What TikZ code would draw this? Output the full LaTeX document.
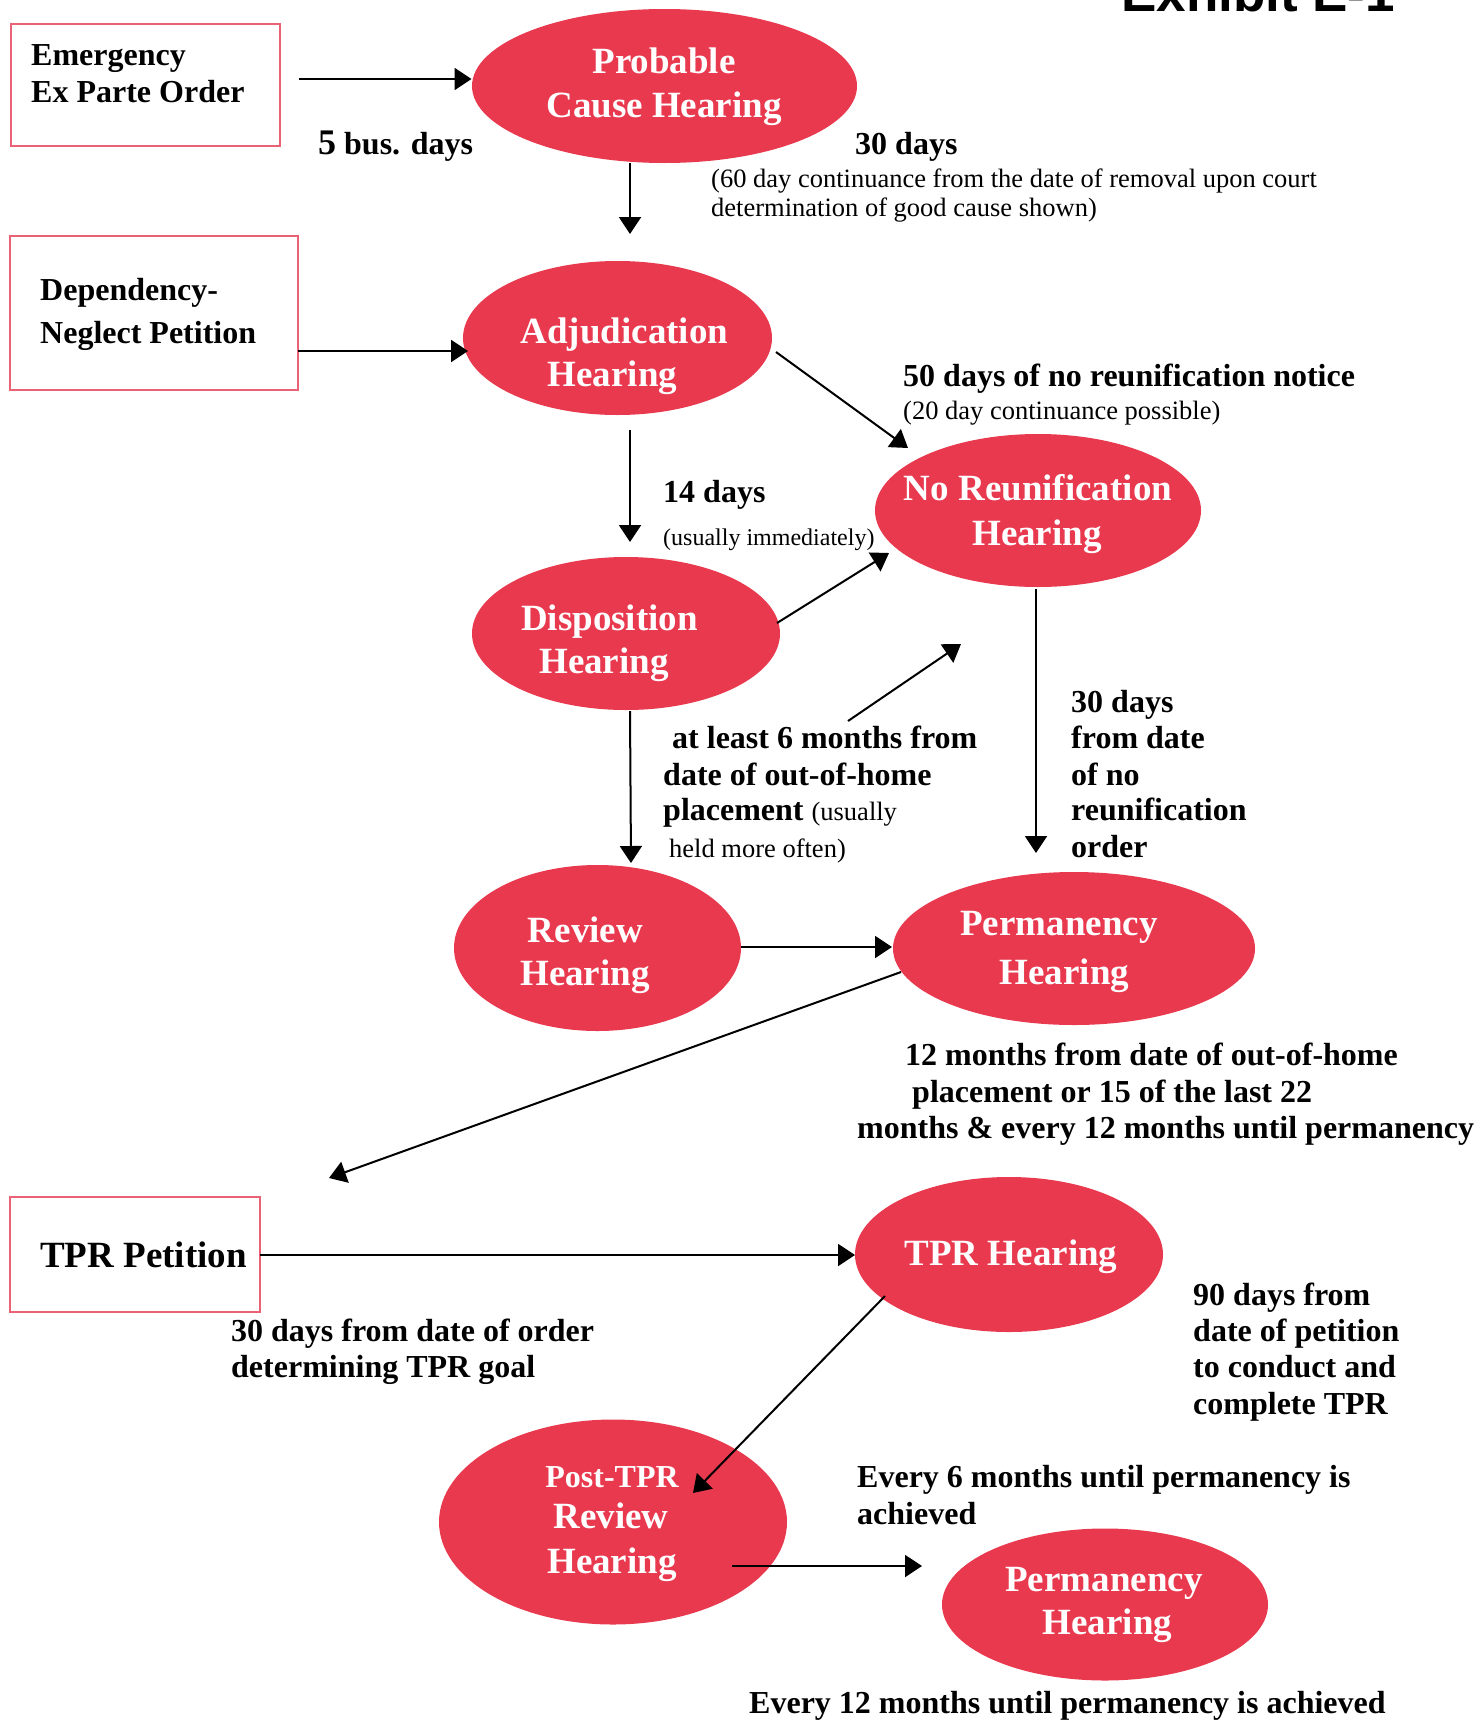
\documentclass[tikz,border=0pt]{standalone}
\usepackage{fontspec}
\setmainfont{Liberation Serif}
\newfontfamily\titlefont{Liberation Sans}
\usetikzlibrary{shapes.geometric,arrows.meta}
\definecolor{hearred}{RGB}{233,57,79}
\definecolor{boxred}{RGB}{234,98,118}
\tikzset{
  hear/.style={ellipse, fill=hearred, draw=none, inner sep=0pt},
  pbox/.style={rectangle, draw=boxred, line width=2pt, inner sep=0pt},
  htxt/.style={anchor=base, inner sep=0pt, text=white, font=\bfseries\fontsize{37}{43}\selectfont},
  lbl/.style={anchor=base west, inner sep=0pt, font=\bfseries\fontsize{32}{37}\selectfont},
  small/.style={anchor=base west, inner sep=0pt, font=\fontsize{26.5}{30}\selectfont},
  titl/.style={anchor=base west, inner sep=0pt, font=\titlefont\bfseries\fontsize{53}{60}\selectfont},
  arr/.style={line width=2pt, -{Triangle[length=17pt,width=22pt]}},
}
\begin{document}
\begin{tikzpicture}[x=1pt,y=-1pt]
\fill[white] (0,0) rectangle (1473,1721);
\useasboundingbox (0,0) rectangle (1473,1721);

% title (cut at top)
\node[titl] (title) at (1121,11) {Exhibit E-1};

% boxes
\node[pbox, minimum width=269pt, minimum height=122pt] (box1) at (145.5,85) {};
\node[pbox, minimum width=288pt, minimum height=154pt] (box2) at (154,313) {};
\node[pbox, minimum width=250pt, minimum height=115pt] (box3) at (135,1254.5) {};

\node[lbl] (b1a) at (31,65) {Emergency};
\node[lbl] (b1b) at (31,102) {Ex Parte Order};
\node[lbl] (b2a) at (40,300) {Dependency-};
\node[lbl] (b2b) at (40,343) {Neglect Petition};
\node[lbl, font=\bfseries\fontsize{37}{43}\selectfont] (b3a) at (40,1267) {TPR Petition};

% hearings
\node[hear, minimum width=385pt, minimum height=154pt] (pc) at (664.5,86) {};
\node[hear, minimum width=309pt, minimum height=154pt] (adj) at (617.5,338) {};
\node[hear, minimum width=326pt, minimum height=153pt] (noreun) at (1038,510.5) {};
\node[hear, minimum width=308pt, minimum height=153pt] (disp) at (626,633.5) {};
\node[hear, minimum width=287pt, minimum height=166pt] (review) at (597.5,948) {};
\node[hear, minimum width=362pt, minimum height=153pt] (perm) at (1074,948.5) {};
\node[hear, minimum width=308pt, minimum height=155pt] (tprh) at (1009,1254.5) {};
\node[hear, minimum width=348pt, minimum height=205pt] (post) at (613,1522) {};
\node[hear, minimum width=326pt, minimum height=152pt] (perm2) at (1105,1604.5) {};

\node[htxt] (pc1) at (664,73) {Probable};
\node[htxt] (pc2) at (664,117) {Cause Hearing};
\node[htxt] (adj1) at (624.5,343) {Adjudication};
\node[htxt] (adj2) at (612.5,386) {Hearing};
\node[htxt] (nr1) at (1038,500) {No Reunification};
\node[htxt] (nr2) at (1037,545) {Hearing};
\node[htxt] (dp1) at (609.5,630) {Disposition};
\node[htxt] (dp2) at (604,673) {Hearing};
\node[htxt] (rv1) at (585.5,942) {Review};
\node[htxt] (rv2) at (585,985) {Hearing};
\node[htxt] (pm1) at (1059,935) {Permanency};
\node[htxt] (pm2) at (1064.5,984) {Hearing};
\node[htxt] (tp1) at (1011,1265.5) {TPR Hearing};
\node[htxt, font=\bfseries\fontsize{32}{37}\selectfont] (po1) at (612,1487) {Post-TPR};
\node[htxt] (po2) at (611,1528) {Review};
\node[htxt] (po3) at (612,1573) {Hearing};
\node[htxt] (pq1) at (1104,1591) {Permanency};
\node[htxt] (pq2) at (1107.5,1634) {Hearing};

% labels
\node[lbl] (t1) at (318,154) {{\fontsize{36}{40}\selectfont 5} bus. days};
\node[lbl] (t2) at (855,154) {30 days};
\node[small] (t3) at (711,187) {(60 day continuance from the date of removal upon court};
\node[small] (t4) at (711,216) {determination of good cause shown)};
\node[lbl] (t5) at (903,386) {50 days of no reunification notice};
\node[small] (t6) at (903,419) {(20 day continuance possible)};
\node[lbl] (t7) at (663,502) {14 days};
\node[small, font=\fontsize{24}{28}\selectfont] (t8) at (663,545) {(usually immediately)};
\node[lbl] (t9) at (672,748) {at least 6 months from};
\node[lbl] (t10) at (663,785) {date of out-of-home};
\node[lbl] (t11) at (663,820) {placement {\mdseries\fontsize{26.5}{30}\selectfont (usually}};
\node[small] (t12) at (669,857) {held more often)};
\node[lbl] (t13) at (1071,712) {30 days};
\node[lbl] (t14) at (1071,748) {from date};
\node[lbl] (t15) at (1071,785) {of no};
\node[lbl] (t16) at (1071,820) {reunification};
\node[lbl] (t17) at (1071,857) {order};
\node[lbl] (t18) at (905,1065) {12 months from date of out-of-home};
\node[lbl] (t19) at (912,1102) {placement or 15 of the last 22};
\node[lbl] (t20) at (857,1138) {months \& every 12 months until permanency};
\node[lbl] (t21) at (231,1341) {30 days from date of order};
\node[lbl] (t22) at (231,1377) {determining TPR goal};
\node[lbl] (t23) at (1193,1305) {90 days from};
\node[lbl] (t24) at (1193,1341) {date of petition};
\node[lbl] (t25) at (1193,1377.5) {to conduct and};
\node[lbl] (t26) at (1193,1414) {complete TPR};
\node[lbl] (t27) at (857,1487) {Every 6 months until permanency is};
\node[lbl] (t28) at (857,1524) {achieved};
\node[lbl] (t29) at (749,1713) {Every 12 months until permanency is achieved};

% free ends
\coordinate (f1) at (848,721);
\coordinate (f2) at (961,644);
\coordinate (f3) at (329,1178);

% connectors
\draw[arr] ([shift={(153.5,-6)}]box1.center) -- ([shift={(-193,-7)}]pc.center);
\draw[arr] ([shift={(-34.5,77)}]pc.center) -- ([shift={(12.5,-104)}]adj.center);
\draw[arr] ([shift={(144,38)}]box2.center) -- ([shift={(-149.5,13)}]adj.center);
\draw[arr] ([shift={(158.5,14)}]adj.center) -- ([shift={(-130,-62.5)}]noreun.center);
\draw[arr] ([shift={(12.5,92)}]adj.center) -- ([shift={(4,-91.5)}]disp.center);
\draw[arr] ([shift={(151,-10.5)}]disp.center) -- ([shift={(-149,42.5)}]noreun.center);
\draw[arr] (f1) -- (f2);
\draw[arr] ([shift={(4,77.5)}]disp.center) -- ([shift={(33.5,-85)}]review.center);
\draw[arr] ([shift={(-2,78.5)}]noreun.center) -- ([shift={(-38,-95.5)}]perm.center);
\draw[arr] ([shift={(143.5,-1)}]review.center) -- ([shift={(-182,-1.5)}]perm.center);
\draw[arr] ([shift={(-173,23.5)}]perm.center) -- (f3);
\draw[arr] ([shift={(125,0.5)}]box3.center) -- ([shift={(-154,0.5)}]tprh.center);
\draw[arr] ([shift={(-124,41.5)}]tprh.center) -- ([shift={(80,-29)}]post.center);
\draw[arr] ([shift={(119,44)}]post.center) -- ([shift={(-183,-38.5)}]perm2.center);
\end{tikzpicture}
\end{document}
